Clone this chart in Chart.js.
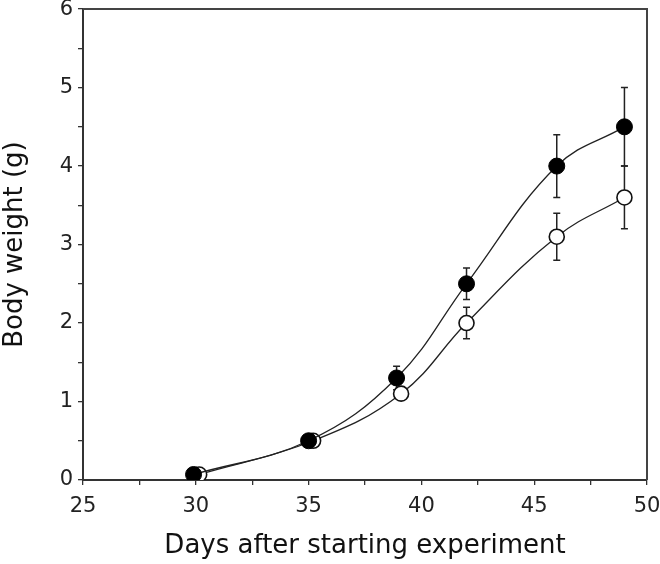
<!DOCTYPE html>
<html><head><meta charset="utf-8">
<script src="https://cdn.jsdelivr.net/npm/chart.js@4.4.0/dist/chart.umd.min.js"></script>
<style>html,body{margin:0;padding:0;background:#fff}#wrap{width:660px;height:564px;position:relative}</style>
</head><body><div id="wrap"><canvas id="c" width="660" height="564"></canvas></div>
<script>
const xLabel = 'Days after starting experiment';
const yLabel = 'Body weight (g)';
const xMin = 25, xMax = 50, xMajor = 5, xMinor = 2.5;
const yMin = 0, yMax = 6, yMajor = 1, yMinor = 0.5;
const filledDays   = [29.9, 35.0, 38.9, 42.0, 46.0, 49.0];
const filledWeight = [0.07, 0.50, 1.30, 2.50, 4.00, 4.50];
const filledErr    = [0,    0,    0.15, 0.20, 0.40, 0.50];
const openDays     = [30.15, 35.2, 39.1, 42.0, 46.0, 49.0];
const openWeight   = [0.07, 0.50, 1.10, 2.00, 3.10, 3.60];
const openErr      = [0,    0,    0,    0.20, 0.30, 0.40];

const FONT = '"DejaVu Sans", sans-serif';
function pts(xs, ys){ return xs.map((x,i)=>({x:x, y:ys[i]})); }

const errorBars = {
  id: 'errorBars',
  beforeDatasetsDraw(chart){
    const ctx = chart.ctx, xs = chart.scales.x, ys = chart.scales.y;
    ctx.save();
    ctx.strokeStyle = '#222';
    ctx.lineWidth = 1.5;
    chart.data.datasets.forEach(ds => {
      ds.data.forEach((p, i) => {
        const e = ds.err[i];
        if (!e) return;
        const px = xs.getPixelForValue(p.x);
        const top = ys.getPixelForValue(p.y + e);
        const bot = ys.getPixelForValue(p.y - e);
        ctx.beginPath();
        ctx.moveTo(px, top); ctx.lineTo(px, bot);
        ctx.moveTo(px-3.5, top); ctx.lineTo(px+3.5, top);
        ctx.moveTo(px-3.5, bot); ctx.lineTo(px+3.5, bot);
        ctx.stroke();
      });
    });
    ctx.restore();
  }
};
const frame = {
  id: 'frame',
  afterDraw(chart){
    const a = chart.chartArea, ctx = chart.ctx;
    ctx.save();
    ctx.strokeStyle = '#444';
    ctx.lineWidth = 2;
    ctx.beginPath();
    ctx.moveTo(a.left, a.top); ctx.lineTo(a.right, a.top); ctx.lineTo(a.right, a.bottom);
    ctx.stroke();
    ctx.restore();
  }
};

new Chart(document.getElementById('c'), {
  type: 'scatter',
  data: {
    datasets: [
      { label: 'filled', data: pts(filledDays, filledWeight), err: filledErr,
        showLine: true, tension: 0.4, borderColor: '#222', borderWidth: 1.3,
        pointRadius: 8, pointBackgroundColor: '#000', pointBorderColor: '#000', pointBorderWidth: 1 },
      { label: 'open', data: pts(openDays, openWeight), err: openErr,
        showLine: true, tension: 0.4, borderColor: '#222', borderWidth: 1.3,
        pointRadius: 7.5, pointBackgroundColor: '#fff', pointBorderColor: '#111', pointBorderWidth: 1.6 }
    ]
  },
  options: {
    responsive: false, animation: false,
    layout: { padding: { top: 7, right: 13, left: 0, bottom: 0 } },
    plugins: { legend: { display: false }, tooltip: { enabled: false } },
    scales: {
      x: {
        type: 'linear', min: xMin, max: xMax,
        afterFit(s){ s.height = 84; s.paddingLeft = 0; s.paddingRight = 0; },
        ticks: { stepSize: xMinor, autoSkip: false, maxRotation: 0, padding: 9,
          color: '#222', font: { family: FONT, size: 21 },
          callback: v => (Math.abs(v % xMajor) < 1e-6 ? String(v) : '') },
        grid: { drawOnChartArea: false, drawTicks: true, tickLength: 5, color: '#333', lineWidth: 1.3 },
        border: { display: true, color: '#333', width: 2 },
        title: { display: true, text: xLabel, color: '#111', font: { family: FONT, size: 26 }, padding: { top: 4, bottom: 2 } }
      },
      y: {
        type: 'linear', min: yMin, max: yMax,
        afterFit(s){ s.width = 83; s.paddingTop = 0; s.paddingBottom = 0; },
        ticks: { stepSize: yMinor, autoSkip: false, padding: 5,
          color: '#222', font: { family: FONT, size: 21 },
          callback: v => (Math.abs(v % yMajor) < 1e-6 ? String(v) : '') },
        grid: { drawOnChartArea: false, drawTicks: true, tickLength: 5, color: '#333', lineWidth: 1.3 },
        border: { display: true, color: '#333', width: 2 },
        title: { display: true, text: yLabel, color: '#111', font: { family: FONT, size: 26 }, padding: { top: 0, bottom: 4 } }
      }
    }
  },
  plugins: [errorBars, frame]
});
</script>
</body></html>
